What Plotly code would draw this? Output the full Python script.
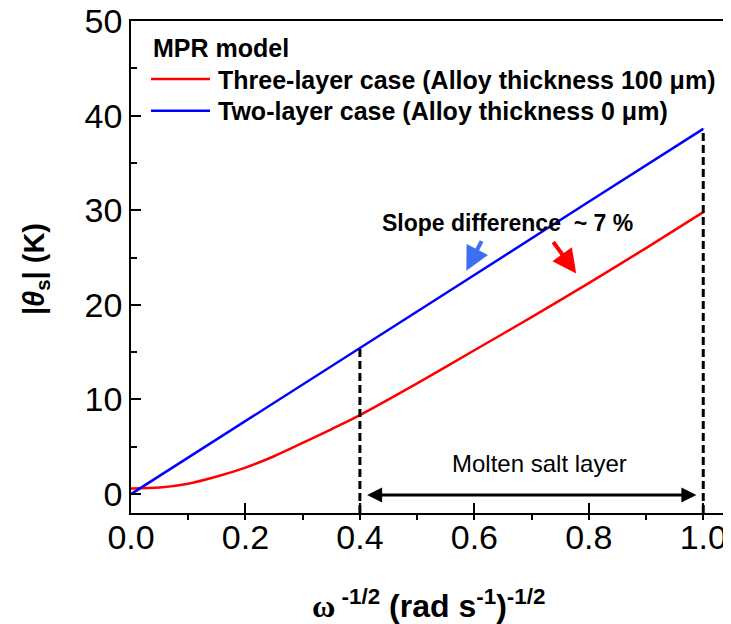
import plotly.graph_objects as go

# ---- data ----
two_layer_x = [0.0, 0.2, 0.4, 0.6, 0.8, 1.0]
two_layer_y = [0.0, 7.7, 15.45, 23.15, 30.9, 38.6]

three_layer_x = [0.0, 0.05, 0.1, 0.15, 0.2, 0.25, 0.3, 0.35, 0.4, 0.5, 0.6, 0.7, 0.8, 0.9, 1.0]
three_layer_y = [0.6, 0.7, 1.1, 1.85, 2.8, 4.0, 5.4, 6.85, 8.35, 11.7, 15.2, 18.7, 22.3, 26.0, 29.8]

marker_x = [0.4, 1.0]          # dashed guide positions
x_ticks = [0.0, 0.2, 0.4, 0.6, 0.8, 1.0]
y_ticks = [0, 10, 20, 30, 40, 50]

legend_title = "MPR model"
legend_names = ["Three-layer case (Alloy thickness 100 μm)", "Two-layer case (Alloy thickness 0 μm)"]

FONT = "Liberation Sans, Arial, sans-serif"
OFF = 8                      # browser body margin
W, H = 731 - OFF, 624 - OFF
L, R, T, B = 131 - OFF, 2, 21 - OFF, 111


def px_x(p):
    return (p - OFF - L) / (W - L - R)


def px_y(p):
    return (H - B - (p - OFF)) / (H - T - B)


def blue_at(x):
    return two_layer_y[two_layer_x.index(x)]


fig = go.Figure()

fig.add_trace(go.Scatter(x=three_layer_x, y=three_layer_y, mode="lines", name=legend_names[0],
                         line=dict(color="#ff0000", width=2.5, shape="spline", smoothing=0.8), showlegend=False))
fig.add_trace(go.Scatter(x=two_layer_x, y=two_layer_y, mode="lines", name=legend_names[1],
                         line=dict(color="#0000ff", width=2.5), showlegend=False))

for mx in marker_x:
    fig.add_trace(go.Scatter(x=[mx, mx], y=[-2, blue_at(mx)], mode="lines", showlegend=False,
                             line=dict(color="black", width=3, dash="8px,4px")))

# manual legend
fig.add_shape(type="line", xref="paper", yref="paper", x0=px_x(151), x1=px_x(210), y0=px_y(79), y1=px_y(79),
              line=dict(color="#ff0000", width=2.5))
fig.add_shape(type="line", xref="paper", yref="paper", x0=px_x(151), x1=px_x(210), y0=px_y(110.7), y1=px_y(110.7),
              line=dict(color="#0000ff", width=2.5))

ann = []
ann.append(dict(xref="paper", yref="paper", x=px_x(151), y=px_y(48), xanchor="left", yanchor="middle",
                text="<b>" + legend_title + "</b>", showarrow=False, font=dict(size=25, color="black", family=FONT)))
ann.append(dict(xref="paper", yref="paper", x=px_x(216), y=px_y(80), xanchor="left", yanchor="middle",
                text="<b>" + legend_names[0] + "</b>", showarrow=False, font=dict(size=25, color="black", family=FONT)))
ann.append(dict(xref="paper", yref="paper", x=px_x(216), y=px_y(111), xanchor="left", yanchor="middle",
                text="<b>" + legend_names[1] + "</b>", showarrow=False, font=dict(size=25, color="black", family=FONT)))

# slope difference annotation and arrows
ann.append(dict(x=0.658, y=28.6, xref="x", yref="y", xanchor="center", yanchor="middle",
                text="<b>Slope difference\u00a0\u00a0~ 7 %</b>",
                showarrow=False, font=dict(size=23, color="black", family=FONT)))
ann.append(dict(x=0.586, y=23.6, ax=0.614, ay=26.9, xref="x", yref="y", axref="x", ayref="y", text="",
                showarrow=True, arrowhead=2, arrowsize=1.2, arrowwidth=4, arrowcolor="#3d6ff2"))
ann.append(dict(x=0.778, y=23.3, ax=0.736, ay=26.8, xref="x", yref="y", axref="x", ayref="y", text="",
                showarrow=True, arrowhead=2, arrowsize=1.2, arrowwidth=4, arrowcolor="#ff0000"))

# molten salt layer
ann.append(dict(x=0.714, y=3.2, xref="x", yref="y", xanchor="center", yanchor="middle",
                text="Molten salt layer", showarrow=False,
                font=dict(size=24, color="black", family=FONT)))
ann.append(dict(x=0.988, y=-0.1, ax=0.41, ay=-0.1, xref="x", yref="y", axref="x", ayref="y", text="",
                showarrow=True, arrowhead=2, arrowside="end+start", arrowsize=1.0, arrowwidth=3,
                arrowcolor="black"))

# axis titles
ann.append(dict(xref="paper", yref="paper", x=px_x(36), y=px_y(269), textangle=-90,
                xanchor="center", yanchor="middle",
                text="<b>|<i>θ</i><sub>s</sub>| (K)</b>", showarrow=False,
                font=dict(size=29, color="black", family=FONT)))
ann.append(dict(xref="paper", yref="paper", x=px_x(428), y=px_y(604),
                xanchor="center", yanchor="middle",
                text="<b><span style='font-family:Liberation Serif'>ω</span><sup> -1/2</sup> (rad s<sup>-1</sup>)<sup>-1/2</sup></b>",
                showarrow=False, font=dict(size=32, color="black", family=FONT)))

fig.update_layout(
    width=W, height=H,
    margin=dict(l=L, r=R, t=T, b=B, autoexpand=False),
    paper_bgcolor="white", plot_bgcolor="white",
    font=dict(family=FONT, color="black"),
    annotations=ann,
    showlegend=False,
)

fig.update_xaxes(range=[0, 1.045], tickvals=x_ticks, ticktext=[f"{v:.1f}" for v in x_ticks],
                 automargin=False, ticklabelstandoff=-7, ticklabeloverflow="allow",
                 ticks="inside", ticklen=10, tickwidth=1.5, tickcolor="black",
                 showline=True, linecolor="black", linewidth=1.5, mirror=True,
                 showgrid=False, zeroline=False, tickfont=dict(size=34, color="black", family=FONT),
                 minor=dict(dtick=0.1, tick0=0, ticks="outside", ticklen=5, tickwidth=1.5, tickcolor="black",
                            showgrid=False))
fig.update_yaxes(range=[-2, 50], tickvals=y_ticks, automargin=False, ticklabeloverflow="allow",
                 ticks="inside", ticklen=10, tickwidth=1.5, tickcolor="black",
                 showline=True, linecolor="black", linewidth=1.5, mirror=True, ticklabelstandoff=0,
                 showgrid=False, zeroline=False, tickfont=dict(size=34, color="black", family=FONT),
                 minor=dict(dtick=5, tick0=0, ticks="inside", ticklen=6, tickwidth=1.5, tickcolor="black",
                            showgrid=False))

fig.write_html("out.html")
